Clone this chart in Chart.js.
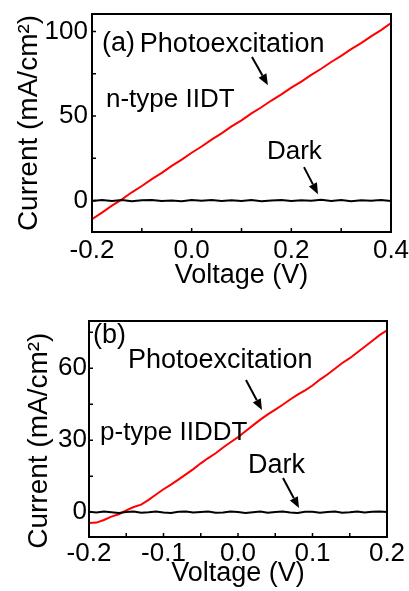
<!DOCTYPE html>
<html lang="en">
<head>
<meta charset="UTF-8">
<title>J-V curves</title>
<script src="https://cdn.jsdelivr.net/npm/chart.js"></script>
<style>
  body { margin: 0; background: #fff; }
  .panel { position: absolute; left: 0; width: 409px; }
  #panelA { top: 0; height: 300px; }
  #panelB { top: 300px; height: 291px; }
</style>
</head>
<body>
<div class="panel" id="panelA"><canvas id="chartA"></canvas></div>
<div class="panel" id="panelB"><canvas id="chartB"></canvas></div>
<script>
// ---- panel (a): n-type IIDT ----
const voltA = [-0.2, -0.18, -0.16, -0.14, -0.12, -0.1, -0.08, -0.06, -0.04, -0.02,
  0, 0.02, 0.04, 0.06, 0.08, 0.1, 0.12, 0.14, 0.16, 0.18,
  0.2, 0.22, 0.24, 0.26, 0.28, 0.3, 0.32, 0.34, 0.36, 0.38, 0.4];
const photoA = [-11.0, -7.1, -3.0, 0.7, 4.9, 8.6, 12.7, 16.4, 20.5, 24.2,
  28.3, 32.0, 36.1, 39.8, 43.9, 47.5, 51.6, 55.2, 59.2, 62.8,
  66.8, 70.4, 74.4, 78.0, 82.0, 85.6, 89.6, 93.2, 97.2, 100.9, 105.0];
const darkA = [-0.3, 0.4, -0.2, 0.3, -0.4, 0.2, 0.4, -0.3, 0.1, -0.4,
  0.3, -0.1, 0.4, -0.3, 0.2, -0.2, 0.4, -0.4, 0.1, 0.3,
  -0.3, 0.2, -0.1, 0.5, -0.2, 0.3, -0.4, 0.2, -0.1, 0.3, -0.2];
const xTicksA = [-0.2, -0.1, 0, 0.1, 0.2, 0.3, 0.4];
const xLabelsA = [-0.2, 0, 0.2, 0.4];
const yTicksA = [0, 25, 50, 75, 100];
const yLabelsA = [0, 50, 100];

// ---- panel (b): p-type IIDDT ----
const voltB = [-0.2, -0.19, -0.18, -0.17, -0.16, -0.15, -0.14, -0.13, -0.12, -0.11,
  -0.1, -0.09, -0.08, -0.07, -0.06, -0.05, -0.04, -0.03, -0.02, -0.01,
  0, 0.01, 0.02, 0.03, 0.04, 0.05, 0.06, 0.07, 0.08, 0.09,
  0.1, 0.11, 0.12, 0.13, 0.14, 0.15, 0.16, 0.17, 0.18, 0.19, 0.2];
const photoB = [-4.5, -4.3, -3.2, -1.8, -0.8, 0.8, 2.2, 3.2, 5.2, 7.4,
  9.6, 11.5, 13.6, 15.8, 18.0, 20.4, 22.6, 24.6, 27.0, 29.2,
  31.3, 33.8, 36.2, 38.6, 40.8, 42.8, 44.8, 47.0, 49.0, 50.8,
  52.8, 55.3, 57.4, 59.8, 62.2, 64.2, 66.6, 69.0, 71.4, 73.8, 75.8];
const darkB = [0.2, -0.1, 0.3, 0.0, -0.3, 0.1, 0.3, -0.2, 0.0, 0.3,
  -0.1, -0.3, 0.2, 0.3, -0.1, 0.1, 0.3, -0.2, -0.1, 0.3,
  0.1, -0.3, 0.0, 0.3, -0.2, 0.1, 0.3, -0.1, -0.3, 0.2,
  0.2, -0.2, 0.1, 0.3, -0.2, 0.0, 0.3, -0.1, 0.2, 0.3, 0.1];
const xTicksB = [-0.2, -0.15, -0.1, -0.05, 0, 0.05, 0.1, 0.15, 0.2];
const xLabelsB = [-0.2, -0.1, 0, 0.1, 0.2];
const yTicksB = [0, 15, 30, 45, 60, 75];
const yLabelsB = [0, 30, 60];

const FONT = '"Liberation Sans", Arial, sans-serif';
Chart.defaults.font.family = FONT;
Chart.defaults.color = '#000';

function pairs(xs, ys) {
  return xs.map((v, i) => ({ x: v, y: ys[i] }));
}

function isIn(list, v) {
  return list.some(t => Math.abs(t - v) < 1e-9);
}

// inward tick marks + box frame
const axisFrame = {
  id: 'axisFrame',
  afterDatasetsDraw(chart) {
    const { ctx, chartArea: ca, scales: { x, y } } = chart;
    ctx.save();
    ctx.strokeStyle = '#000';
    ctx.lineWidth = 1.5;
    ctx.beginPath();
    x.ticks.forEach(t => {
      const px = x.getPixelForValue(t.value);
      ctx.moveTo(px, ca.bottom);
      ctx.lineTo(px, ca.bottom - 4);
    });
    y.ticks.forEach(t => {
      const py = y.getPixelForValue(t.value);
      ctx.moveTo(ca.left, py);
      ctx.lineTo(ca.left + 4, py);
    });
    ctx.stroke();
    ctx.lineWidth = 2;
    ctx.strokeRect(ca.left, ca.top, ca.right - ca.left, ca.bottom - ca.top);
    ctx.restore();
  }
};

// text labels and arrows, placed in data units
function notesPlugin(notes, arrows) {
  return {
    id: 'notes',
    afterDraw(chart) {
      const { ctx, scales: { x, y } } = chart;
      ctx.save();
      ctx.fillStyle = '#000';
      ctx.strokeStyle = '#000';
      ctx.textAlign = 'left';
      ctx.textBaseline = 'alphabetic';
      notes.forEach(n => {
        ctx.font = n.size + 'px ' + FONT;
        ctx.fillText(n.text, x.getPixelForValue(n.x), y.getPixelForValue(n.y));
      });
      arrows.forEach(a => {
        const x1 = x.getPixelForValue(a.from[0]), y1 = y.getPixelForValue(a.from[1]);
        const x2 = x.getPixelForValue(a.to[0]), y2 = y.getPixelForValue(a.to[1]);
        const ang = Math.atan2(y2 - y1, x2 - x1);
        const hl = 11, hw = 4.5;
        const bx = x2 - hl * Math.cos(ang), by = y2 - hl * Math.sin(ang);
        ctx.lineWidth = 2;
        ctx.beginPath();
        ctx.moveTo(x1, y1);
        ctx.lineTo(bx, by);
        ctx.stroke();
        ctx.beginPath();
        ctx.moveTo(x2, y2);
        ctx.lineTo(bx + hw * Math.sin(ang), by - hw * Math.cos(ang));
        ctx.lineTo(bx - hw * Math.sin(ang), by + hw * Math.cos(ang));
        ctx.closePath();
        ctx.fill();
      });
      ctx.restore();
    }
  };
}

function makeChart(id, cfg) {
  return new Chart(document.getElementById(id), {
    type: 'line',
    data: {
      datasets: [
        { data: pairs(cfg.volt, cfg.dark), borderColor: '#000', borderWidth: 2 },
        { data: pairs(cfg.volt, cfg.photo), borderColor: '#ff0000', borderWidth: 2 }
      ]
    },
    options: {
      responsive: true,
      maintainAspectRatio: false,
      animation: false,
      layout: { padding: cfg.padding },
      elements: { point: { radius: 0 }, line: { tension: 0 } },
      plugins: { legend: { display: false }, tooltip: { enabled: false } },
      scales: {
        x: {
          type: 'linear',
          min: cfg.xMin, max: cfg.xMax,
          grid: { display: false, drawTicks: false },
          border: { display: false },
          afterBuildTicks: s => { s.ticks = cfg.xTicks.map(v => ({ value: v })); },
          afterFit: s => { s.height = cfg.xHeight; s.paddingLeft = 0; s.paddingRight = 0; },
          ticks: {
            autoSkip: false, maxRotation: 0, padding: cfg.xTickPad,
            font: { size: 26 },
            callback: v => isIn(cfg.xLabels, v) ? v.toFixed(1) : ''
          },
          title: { display: true, text: 'Voltage (V)', font: { size: 27 }, padding: { top: 0, bottom: cfg.xTitlePad } }
        },
        y: {
          type: 'linear',
          min: cfg.yMin, max: cfg.yMax,
          grid: { display: false, drawTicks: false },
          border: { display: false },
          afterBuildTicks: s => { s.ticks = cfg.yTicks.map(v => ({ value: v })); },
          afterFit: s => { s.width = cfg.yWidth; s.paddingTop = 0; s.paddingBottom = 0; },
          ticks: {
            autoSkip: false, padding: cfg.yTickPad,
            font: { size: 26 },
            callback: v => isIn(cfg.yLabels, v) ? String(v) : ''
          },
          title: { display: true, text: cfg.yTitle, font: { size: 28 }, padding: { top: cfg.yTitlePad, bottom: 0 } }
        }
      }
    },
    plugins: [axisFrame, notesPlugin(cfg.notes, cfg.arrows)]
  });
}

makeChart('chartA', {
  volt: voltA, photo: photoA, dark: darkA,
  xMin: -0.2, xMax: 0.4, yMin: -18.6, yMax: 110.4,
  xTicks: xTicksA, xLabels: xLabelsA, yTicks: yTicksA, yLabels: yLabelsA,
  padding: { top: 14, right: 18, left: 0, bottom: 0 },
  xHeight: 68, yWidth: 92, xTickPad: 3, yTickPad: 4, xTitlePad: 8, yTitlePad: 12,
  yTitle: 'Current (mA/cm²)',
  notes: [
    { text: '(a)', x: -0.180, y: 88.5, size: 27 },
    { text: 'Photoexcitation', x: -0.104, y: 88.0, size: 27 },
    { text: 'n-type IIDT', x: -0.172, y: 55.3, size: 26 },
    { text: 'Dark', x: 0.151, y: 24.6, size: 26 }
  ],
  arrows: [
    { from: [0.121, 84.9], to: [0.153, 68.3] },
    { from: [0.2254, 19.8], to: [0.2535, 3.8] }
  ]
});

makeChart('chartB', {
  volt: voltB, photo: photoB, dark: darkB,
  xMin: -0.2, xMax: 0.2, yMin: -10.3, yMax: 79.7,
  xTicks: xTicksB, xLabels: xLabelsB, yTicks: yTicksB, yLabels: yLabelsB,
  padding: { top: 21, right: 22, left: 0, bottom: 0 },
  xHeight: 54, yWidth: 89, xTickPad: 1, yTickPad: 2, xTitlePad: 1, yTitlePad: 22,
  yTitle: 'Current (mA/cm²)   ',
  notes: [
    { text: '(b)', x: -0.1946, y: 70.5, size: 27 },
    { text: 'Photoexcitation', x: -0.1477, y: 60.1, size: 27 },
    { text: 'p-type IIDDT', x: -0.1852, y: 30.1, size: 26 },
    { text: 'Dark', x: 0.0134, y: 16.4, size: 27 }
  ],
  arrows: [
    { from: [0.0107, 55.1], to: [0.0322, 42.6] },
    { from: [0.0604, 14.3], to: [0.0819, 1.8] }
  ]
});
</script>
</body>
</html>
